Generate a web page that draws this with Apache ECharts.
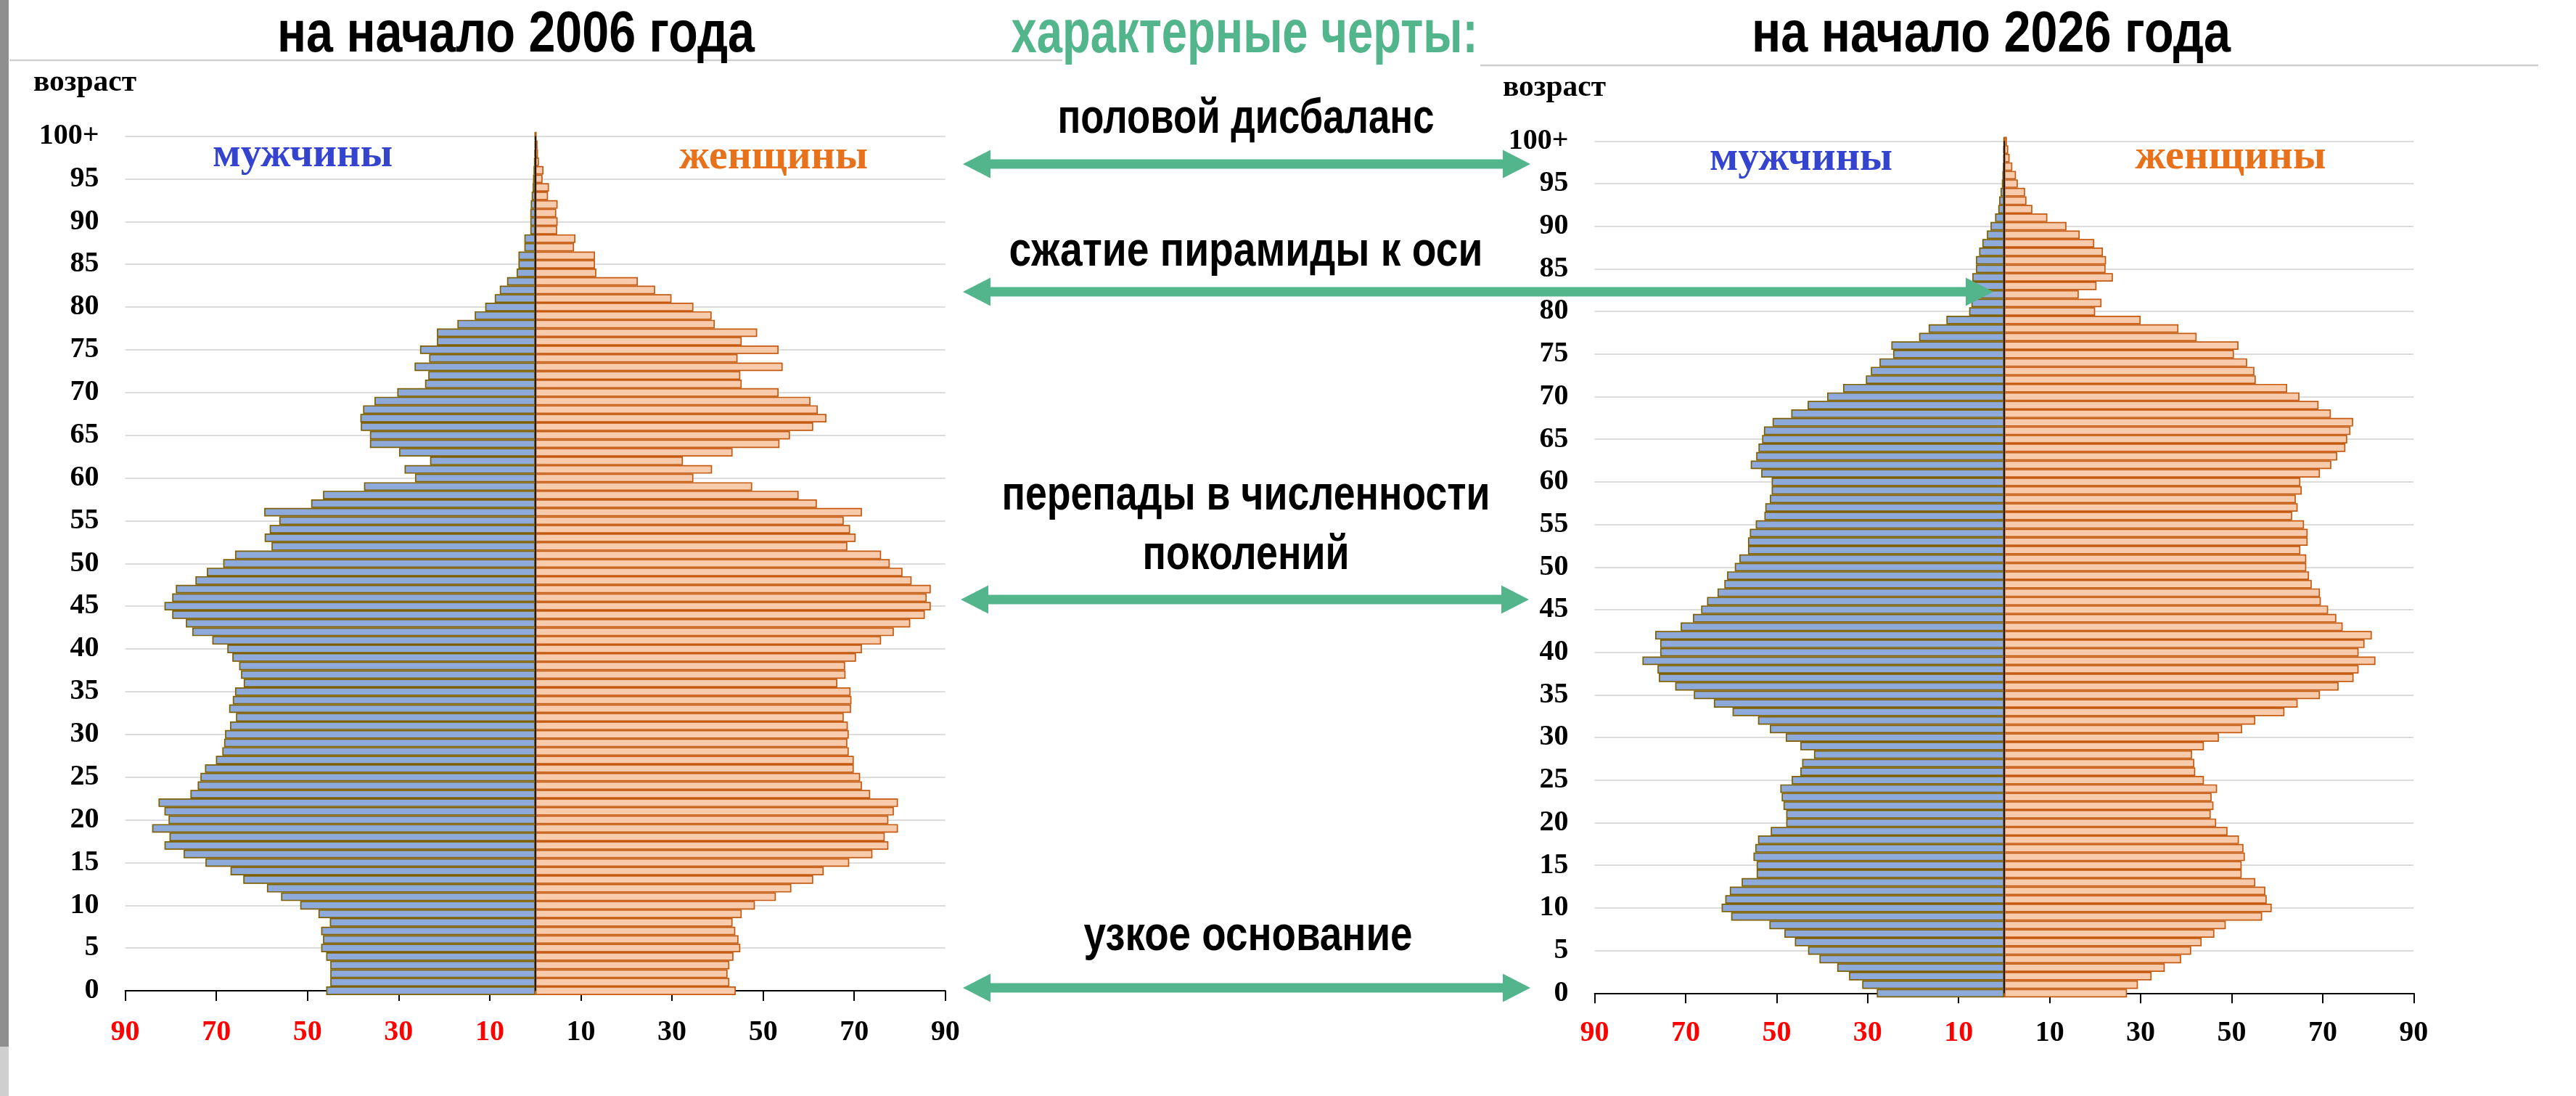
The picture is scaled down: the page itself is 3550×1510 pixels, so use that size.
<!DOCTYPE html>
<html><head><meta charset="utf-8">
<script src="https://cdn.jsdelivr.net/npm/echarts@6/dist/echarts.min.js"></script>
<style>html,body{margin:0;padding:0;background:#fff}#c{width:3550px;height:1510px}</style>
</head><body><div id="c"></div>
<script>
const AGES = ['0','1','2','3','4','5','6','7','8','9',
 '10','11','12','13','14','15','16','17','18','19',
 '20','21','22','23','24','25','26','27','28','29',
 '30','31','32','33','34','35','36','37','38','39',
 '40','41','42','43','44','45','46','47','48','49',
 '50','51','52','53','54','55','56','57','58','59',
 '60','61','62','63','64','65','66','67','68','69',
 '70','71','72','73','74','75','76','77','78','79',
 '80','81','82','83','84','85','86','87','88','89',
 '90','91','92','93','94','95','96','97','98','99','100+'];
const X_TICKS = [-90,-70,-50,-30,-10,10,30,50,70,90];

const MEN_2006 = [45.9,45.0,45.0,45.0,45.9,47.0,46.6,47.0,45.1,47.6,
 51.6,55.8,58.9,64.1,66.9,72.4,77.2,81.4,80.3,84.1,
 80.5,81.4,82.7,75.7,74.1,73.5,72.5,70.1,68.7,68.3,
 68.1,67.0,65.7,67.2,66.4,65.9,64.0,64.6,65.0,66.5,
 67.6,70.9,75.3,76.7,79.7,81.4,79.7,78.9,74.6,72.1,
 68.5,65.9,57.9,59.4,58.3,56.2,59.5,49.2,46.6,37.6,
 26.4,28.7,23.1,29.9,36.3,36.3,38.3,38.4,37.8,35.3,
 30.3,24.2,23.5,26.5,23.3,25.3,21.6,21.6,17.1,13.3,
 11.0,8.9,7.8,6.2,4.1,3.7,3.7,2.4,2.4,1.1,
 1.1,1.1,1.0,0.8,0.6,0.5,0.4,0.3,0.2,0.1,0.1];
const WOMEN_2006 = [44.0,42.6,42.2,42.6,43.5,45.0,44.6,43.9,43.3,45.3,
 48.2,52.8,56.2,61.0,63.3,68.9,74.0,77.5,76.7,79.6,
 77.5,78.7,79.6,73.5,71.7,71.3,69.9,69.9,68.8,68.5,
 68.8,68.6,67.7,69.3,69.4,69.2,66.3,68.1,68.0,70.4,
 71.7,75.9,78.7,82.3,85.5,86.8,85.9,86.8,82.6,80.6,
 77.8,75.9,68.5,70.3,69.1,67.7,71.7,61.8,57.8,47.6,
 34.7,38.8,32.4,43.3,53.6,55.9,61.0,63.9,62.0,60.4,
 53.4,45.3,45.0,54.3,44.4,53.4,45.3,48.7,39.4,38.7,
 34.7,29.9,26.3,22.5,13.4,13.1,13.1,8.5,8.8,4.8,
 4.9,4.6,4.9,2.8,3.0,1.6,1.8,0.8,0.6,0.5,0.3];
const MEN_2026 = [28.0,31.2,34.1,36.7,40.6,43.1,46.0,48.3,51.6,60.0,
 62.1,61.3,60.3,57.7,54.4,54.4,55.1,54.7,54.1,51.3,
 47.9,47.9,48.5,48.9,49.2,46.7,44.8,44.4,41.8,44.8,
 48.0,51.5,54.1,59.7,63.8,68.2,72.3,75.9,76.2,79.5,
 75.6,75.6,76.7,71.1,68.4,66.6,65.3,63.0,61.5,60.9,
 59.2,58.2,56.3,56.3,55.9,54.6,52.7,52.5,51.5,51.1,
 51.1,53.4,55.7,54.5,54.0,53.2,52.8,50.9,46.8,43.2,
 38.9,35.4,30.4,29.3,27.4,24.4,24.8,18.7,16.6,12.7,
 7.7,7.2,7.3,7.4,7.0,6.2,6.2,5.5,4.8,3.8,
 3.0,2.0,1.3,1.1,0.8,0.5,0.4,0.3,0.2,0.2,0.1];
const WOMEN_2026 = [27.0,29.4,32.4,35.3,38.9,41.1,43.4,46.2,48.7,56.7,
 58.8,57.7,57.4,55.2,52.2,52.2,52.9,52.6,51.6,49.1,
 46.6,45.4,46.0,45.6,46.8,43.9,42.0,41.8,41.3,43.9,
 47.2,52.3,55.2,61.6,64.5,69.4,73.5,76.8,77.9,81.6,
 77.9,79.2,80.8,74.4,73.0,71.2,69.6,69.4,67.6,67.0,
 66.4,66.4,65.1,66.7,66.7,65.9,63.3,64.5,64.1,65.4,
 65.1,69.4,71.9,73.2,75.0,75.4,76.1,76.7,71.8,69.1,
 64.9,62.2,55.3,55.0,53.4,50.5,51.5,42.3,38.3,30.0,
 20.0,21.4,16.4,20.3,23.9,22.3,22.4,21.7,19.8,16.6,
 13.7,9.5,6.2,4.9,4.6,3.0,2.6,1.8,1.2,0.9,0.6];

const TITLES = ['на начало 2006 года', 'на начало 2026 года'];
const HEADING = 'характерные черты:';
const NOTES = ['половой дисбаланс', 'сжатие пирамиды к оси', 'перепады в численности', 'поколений', 'узкое основание'];
const SEX_LABELS = ['мужчины', 'женщины'];
const AXIS_NAME = 'возраст';

const SANS = '"Liberation Sans", Arial, sans-serif';
const SERIF = '"Liberation Serif", "Times New Roman", serif';
const GREEN = '#52b58c';
const ctx2d = document.createElement('canvas').getContext('2d');
function textWidth(str, font) { ctx2d.font = font; return ctx2d.measureText(str).width; }
function txt(str, x, baseline, o) {
  const fam = o.family || SANS;
  const font = (o.weight || 'normal') + ' ' + o.size + 'px ' + fam;
  const ratio = fam === SERIF ? 0.3375 : 0.3465;
  const sx = o.width ? o.width / textWidth(str, font) : 1;
  const align = o.align || 'center';
  return { type: 'text', x: x, y: baseline - ratio * o.size, scaleX: sx, z: 100,
    style: { text: str, font: font, fill: o.color || '#000', align: align, verticalAlign: 'middle',
      textAlign: align, textVerticalAlign: 'middle' } };
}
function arrow(x1, x2, y) {
  const t = 6.5, h = 19.5, L = 38;
  return { type: 'polygon', z: 110, shape: { points: [[x1, y], [x1 + L, y - h], [x1 + L, y - t], [x2 - L, y - t], [x2 - L, y - h],
    [x2, y], [x2 - L, y + h], [x2 - L, y + t], [x1 + L, y + t], [x1 + L, y + h]] }, style: { fill: GREEN } };
}

const grids = [
  { left: 172.6, top: 187.5, width: 1130.2, height: 1177.5 },
  { left: 2197.6, top: 194.3, width: 1128.7, height: 1174 }
];
const labelMargins = [38, 35];
const xAxes = [], yAxes = [], series = [];
[[MEN_2006, WOMEN_2006], [MEN_2026, WOMEN_2026]].forEach(function (pair, i) {
  xAxes.push({ gridIndex: i, type: 'value', min: -90, max: 90,
    axisLine: { show: true, onZero: false, lineStyle: { color: '#000', width: 2 } },
    axisTick: { show: true, customValues: X_TICKS, length: 14, lineStyle: { color: '#000', width: 2 } },
    axisLabel: { customValues: X_TICKS, margin: labelMargins[i], fontFamily: SERIF, fontSize: 40, fontWeight: 'bold',
      formatter: function (v) { return String(Math.abs(v)); },
      color: function (v) { return Number(v) < 0 ? '#ff0000' : '#000000'; } },
    splitLine: { show: false } });
  yAxes.push({ gridIndex: i, type: 'category', data: AGES, boundaryGap: false,
    axisLine: { show: false }, axisTick: { show: false },
    axisLabel: { interval: 4, margin: 36, fontFamily: SERIF, fontSize: 40, fontWeight: 'bold', color: '#000' },
    splitLine: { show: true, interval: 4, lineStyle: { color: '#dcdcdc', width: 2 } } });
  series.push({ type: 'bar', name: SEX_LABELS[0], xAxisIndex: i, yAxisIndex: i,
    data: pair[0].map(function (v) { return -v; }), barGap: '-100%', barCategoryGap: '0%', silent: true,
    itemStyle: { color: '#8eaadb', borderColor: '#7f6000', borderWidth: 1.7 } });
  series.push({ type: 'bar', name: SEX_LABELS[1], xAxisIndex: i, yAxisIndex: i,
    data: pair[1], barGap: '-100%', barCategoryGap: '0%', silent: true,
    itemStyle: { color: '#f8cbad', borderColor: '#c55a11', borderWidth: 1.7 },
    markLine: { silent: true, symbol: 'none', animation: false, label: { show: false },
      lineStyle: { color: '#1a1a1a', width: 2, type: 'solid' }, data: [{ xAxis: 0 }] } });
});

const graphics = [
  { type: 'rect', z: 1, shape: { x: 0, y: 0, width: 12, height: 1442 }, style: { fill: '#8f8f8f' } },
  { type: 'rect', z: 1, shape: { x: 0, y: 1442, width: 12, height: 68 }, style: { fill: '#cfcfcf' } },
  { type: 'line', z: 1, shape: { x1: 13, y1: 83, x2: 1464, y2: 83 }, style: { stroke: '#cfcfcf', lineWidth: 2.5 } },
  { type: 'line', z: 1, shape: { x1: 2040, y1: 90, x2: 3498, y2: 90 }, style: { stroke: '#cfcfcf', lineWidth: 2.5 } },
  txt(TITLES[0], 711, 77, { size: 80, weight: 'bold', width: 658 }),
  txt(TITLES[1], 2744, 77, { size: 80, weight: 'bold', width: 660 }),
  txt(HEADING, 1715, 78, { size: 84, weight: 'bold', width: 643, color: GREEN }),
  txt(NOTES[0], 1717, 188, { size: 66, weight: 'bold', width: 519 }),
  txt(NOTES[1], 1717, 371, { size: 66, weight: 'bold', width: 653 }),
  txt(NOTES[2], 1717, 707, { size: 66, weight: 'bold', width: 673 }),
  txt(NOTES[3], 1717, 789, { size: 66, weight: 'bold', width: 285 }),
  txt(NOTES[4], 1720, 1314, { size: 66, weight: 'bold', width: 453 }),
  txt(SEX_LABELS[0], 417, 233, { size: 56, weight: 'bold', family: SERIF, width: 248, color: '#3444cf' }),
  txt(SEX_LABELS[1], 1066, 236, { size: 56, weight: 'bold', family: SERIF, width: 260, color: '#e8721c' }),
  txt(SEX_LABELS[0], 2482, 238, { size: 56, weight: 'bold', family: SERIF, width: 252, color: '#3444cf' }),
  txt(SEX_LABELS[1], 3074, 236, { size: 56, weight: 'bold', family: SERIF, width: 263, color: '#e8721c' }),
  txt(AXIS_NAME, 46, 128, { size: 40, weight: 'bold', family: SERIF, width: 142, align: 'left' }),
  txt(AXIS_NAME, 2071, 135, { size: 40, weight: 'bold', family: SERIF, width: 142, align: 'left' }),
  arrow(1327, 2109, 226),
  arrow(1327, 2747, 402),
  arrow(1324, 2107, 826),
  arrow(1327, 2109, 1361)
];

const chart = echarts.init(document.getElementById('c'), null, { renderer: 'canvas' });
chart.setOption({
  animation: false,
  backgroundColor: '#ffffff',
  grid: grids,
  xAxis: xAxes,
  yAxis: yAxes,
  series: series,
  graphic: { elements: graphics }
});
</script></body></html>
